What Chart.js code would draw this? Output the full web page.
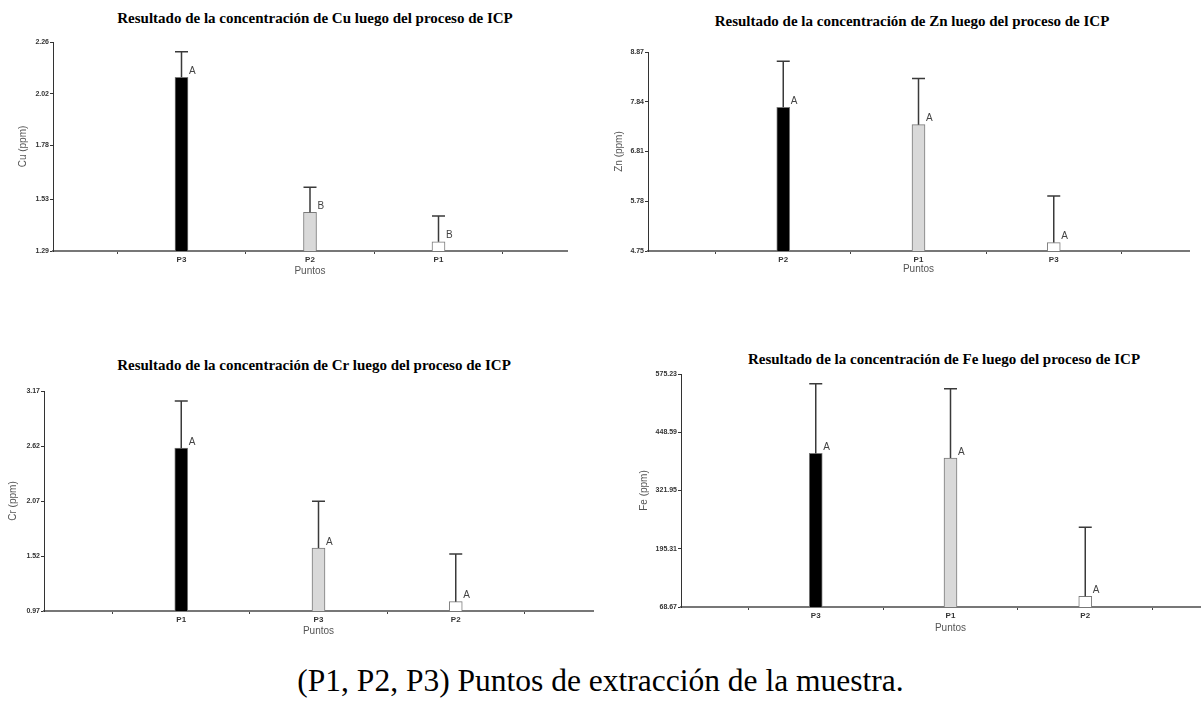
<!DOCTYPE html>
<html>
<head>
<meta charset="utf-8">
<script src="https://cdn.jsdelivr.net/npm/chart.js@4.4.1/dist/chart.umd.min.js"></script>
<style>
  html, body { margin:0; padding:0; background:#fff; width:1201px; height:708px; overflow:hidden; }
  canvas { position:absolute; }
  .ttl { position:absolute; font:bold 15px "Liberation Serif", "Times New Roman", serif; line-height:15px; white-space:nowrap; transform:translateX(-50%); color:#000; }
  .cap { position:absolute; left:0; width:1201px; text-align:center; font:31.5px "Liberation Serif", "Times New Roman", serif; line-height:31.5px; color:#000; white-space:nowrap; }
</style>
</head>
<body>
<div class="ttl" style="left:315px; top:11px;">Resultado de la concentración de Cu luego del proceso de ICP</div>
<div class="ttl" style="left:912px; top:14px;">Resultado de la concentración de Zn luego del proceso de ICP</div>
<div class="ttl" style="left:314px; top:358px;">Resultado de la concentración de Cr luego del proceso de ICP</div>
<div class="ttl" style="left:944px; top:352px;">Resultado de la concentración de Fe luego del proceso de ICP</div>
<canvas id="cu" width="600" height="290" style="left:0px; top:0px;"></canvas>
<canvas id="zn" width="600" height="290" style="left:600px; top:0px;"></canvas>
<canvas id="cr" width="600" height="320" style="left:0px; top:330px;"></canvas>
<canvas id="fe" width="610" height="320" style="left:620px; top:330px;"></canvas>
<div class="cap" style="top:665px;">(P1, P2, P3) Puntos de extracción de la muestra.</div>
<script>
// ---- Data ----
const cuCategories = ['P3', 'P2', 'P1'];
const cuMeans      = [2.096, 1.470, 1.333];
const cuUpper      = [2.215, 1.586, 1.453];
const cuLetters    = ['A', 'B', 'B'];
const cuTicks      = [1.29, 1.53, 1.78, 2.02, 2.26];

const znCategories = ['P2', 'P1', 'P3'];
const znMeans      = [7.725, 7.365, 4.924];
const znUpper      = [8.68, 8.32, 5.89];
const znLetters    = ['A', 'A', 'A'];
const znTicks      = [4.75, 5.78, 6.81, 7.84, 8.87];

const crCategories = ['P1', 'P3', 'P2'];
const crMeans      = [2.598, 1.599, 1.063];
const crUpper      = [3.07, 2.067, 1.539];
const crLetters    = ['A', 'A', 'A'];
const crTicks      = [0.97, 1.52, 2.07, 2.62, 3.17];

const feCategories = ['P3', 'P1', 'P2'];
const feMeans      = [402.6, 392.4, 92.0];
const feUpper      = [554.1, 543.2, 242.2];
const feLetters    = ['A', 'A', 'A'];
const feTicks      = [68.67, 195.31, 321.95, 448.59, 575.23];

const barFills = ['#000000', '#d9d9d9', '#ffffff'];

const errorPlugin = {
  id: 'errLetters',
  afterDatasetsDraw(chart) {
    const cfg = chart.options.plugins.errLetters;
    const ys = chart.scales.y;
    const meta = chart.getDatasetMeta(0);
    const ctx = chart.ctx;
    ctx.save();
    meta.data.forEach((el, i) => {
      if (cfg.upper[i] == null) return;
      const w = el.width;
      const x = el.x;
      const yTop = ys.getPixelForValue(cfg.upper[i]);
      ctx.strokeStyle = '#3a3a3a';
      ctx.lineWidth = 1.5;
      ctx.beginPath();
      ctx.moveTo(x, el.y);
      ctx.lineTo(x, yTop);
      ctx.moveTo(x - w / 2, yTop);
      ctx.lineTo(x + w / 2, yTop);
      ctx.stroke();
      ctx.fillStyle = '#444';
      ctx.font = '10px "Liberation Sans", Arial, sans-serif';
      ctx.textAlign = 'left';
      ctx.textBaseline = 'bottom';
      ctx.fillText(cfg.letters[i], x + w / 2 + 1, el.y - 1);
    });
    ctx.restore();
  }
};

function makeChart(id, cats, means, upper, letters, ticks, yTitle, g) {
  const labels = [''].concat(cats, ['']);
  const data = [null].concat(means, [null]);
  const up = [null].concat(upper, [null]);
  const lt = [''].concat(letters, ['']);
  const fills = ['#fff'].concat(barFills, ['#fff']);
  return new Chart(document.getElementById(id), {
    type: 'bar',
    data: {
      labels: labels,
      datasets: [{
        data: data,
        backgroundColor: fills,
        borderColor: '#7a7a7a',
        borderWidth: 1,
        borderSkipped: 'bottom',
        barThickness: 13
      }]
    },
    options: {
      responsive: false,
      animation: false,
      devicePixelRatio: 1,
      layout: { padding: { left: 0, top: g.top, right: g.right, bottom: g.bottom } },
      plugins: {
        legend: { display: false },
        tooltip: { enabled: false },
        errLetters: { upper: up, letters: lt }
      },
      scales: {
        x: {
          type: 'category',
          offset: false,
          grid: { display: true, drawOnChartArea: false, drawTicks: true, tickLength: 3, color: '#444' },
          border: { display: true, color: '#777', width: 2 },
          ticks: { color: '#333', font: { family: '"Liberation Sans", Arial, sans-serif', size: 8, weight: 'bold' }, padding: 1, autoSkip: false, maxRotation: 0 },
          title: { display: true, text: 'Puntos', color: '#555', font: { family: '"Liberation Sans", Arial, sans-serif', size: 10 }, padding: { top: 0, bottom: g.xtPad } },
          afterFit(s) { s.height = 30; }
        },
        y: {
          min: ticks[0],
          max: ticks[ticks.length - 1],
          afterBuildTicks(s) { s.ticks = ticks.map(v => ({ value: v })); },
          grid: { display: true, drawOnChartArea: false, drawTicks: true, tickLength: 3, color: '#333' },
          border: { display: true, color: '#333', width: 1 },
          ticks: { color: '#333', font: { family: '"Liberation Sans", Arial, sans-serif', size: 7, weight: 'bold' }, padding: 1, callback: v => Number(v).toFixed(2) },
          title: { display: true, text: yTitle, color: '#555', font: { family: '"Liberation Sans", Arial, sans-serif', size: 10 }, padding: { top: g.ytPad, bottom: 0 } },
          afterFit(s) { s.width = g.yw; }
        }
      }
    },
    plugins: [errorPlugin]
  });
}

makeChart('cu', cuCategories, cuMeans, cuUpper, cuLetters, cuTicks, 'Cu (ppm)',
  { top: 42, right: 33, bottom: 9, yw: 53, xtPad: 4, ytPad: 17 });
makeChart('zn', znCategories, znMeans, znUpper, znLetters, znTicks, 'Zn (ppm)',
  { top: 52, right: 11, bottom: 9, yw: 48, xtPad: 6, ytPad: 13 });
makeChart('cr', crCategories, crMeans, crUpper, crLetters, crTicks, 'Cr (ppm)',
  { top: 61, right: 7, bottom: 9, yw: 44, xtPad: 4, ytPad: 7 });
makeChart('fe', feCategories, feMeans, feUpper, feLetters, feTicks, 'Fe (ppm)',
  { top: 44, right: 10, bottom: 13, yw: 61, xtPad: 3, ytPad: 18 });
</script>
</body>
</html>
